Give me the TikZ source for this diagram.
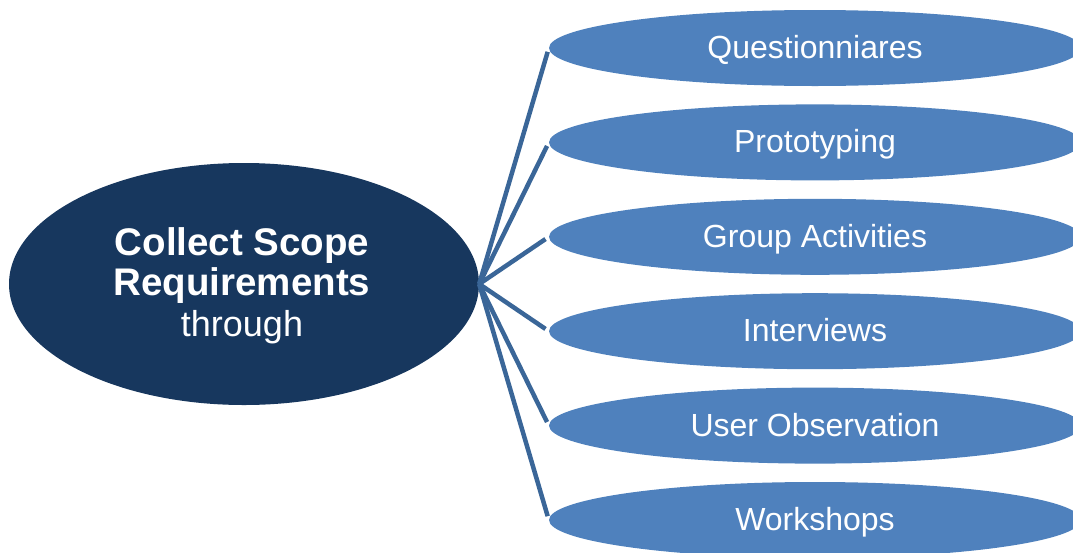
\documentclass[tikz,border=0pt]{standalone}
\usepackage{fontspec}
\setmainfont{Liberation Sans}
\usetikzlibrary{positioning, shapes.geometric}

\definecolor{navy}{HTML}{17375E}
\definecolor{ovalblue}{HTML}{4F81BD}
\definecolor{spoke}{HTML}{3A6698}

\tikzset{
    hub/.style={ellipse, fill=navy, text=white, inner sep=0pt, minimum width=470pt, minimum height=242pt, align=center, font=\fontsize{38.5}{40}\selectfont},
    method/.style={ellipse, fill=ovalblue, text=white, inner sep=0pt, minimum width=532pt, minimum height=76pt, text height=23pt, text depth=2pt, font=\fontsize{32}{38}\selectfont},
    link/.style={spoke, line width=4.5pt, shorten >=4pt}
}

\begin{document}
\begin{tikzpicture}[x=1pt, y=-1pt]
        \clip (0,0) rectangle (1073,552);
        \useasboundingbox (0,0) rectangle (1073,552);

        % Draw the main oval
                \node[hub] (scope) at (244,284) {};
                \node[font=\fontsize{38.5}{40}\selectfont, text=white, align=center] (scopetext) at (242,286) {\bfseries Collect Scope\\\bfseries Requirements\\[1pt]\fontsize{36}{38}\selectfont through};

        % Draw the method ovals
                \node[method] (quest) at (815,48) {Questionniares};
                \node[method] (proto) at (815,142.4) {Prototyping};
                \node[method] (group) at (815,236.8) {Group Activities};
                \node[method] (inter) at (815,331.2) {Interviews};
                \node[method] (observ) at (815,425.6) {User Observation};
                \node[method] (work) at (815,520) {Workshops};

        % Draw spokes from the main oval to the methods
                \draw[link] (scope.east) -- (quest.west);
                \draw[link] (scope.east) -- (proto.west);
                \draw[link] (scope.east) -- (group.west);
                \draw[link] (scope.east) -- (inter.west);
                \draw[link] (scope.east) -- (observ.west);
                \draw[link] (scope.east) -- (work.west);

\end{tikzpicture}
\end{document}
